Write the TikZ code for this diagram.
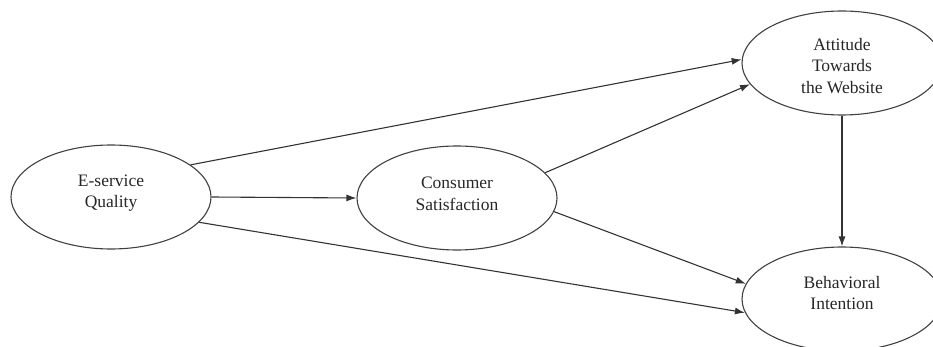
\documentclass[tikz,border=0pt]{standalone}
\usepackage{fontspec}
\setmainfont{Liberation Serif}
\usetikzlibrary{shapes.geometric,arrows.meta}
\begin{document}
\begin{tikzpicture}[x=1pt,y=-1pt,
  construct/.style={ellipse,draw=black!75,line width=1.1pt,minimum width=200pt,minimum height=104pt,inner sep=0pt},
  lbl/.style={align=center,text=black!85,inner sep=0pt,font=\fontsize{17.5}{21.5}\selectfont},
  link/.style={draw=black!80,line width=1.1pt,-{Latex[length=10pt,width=7pt]}}]
\useasboundingbox (0,0) rectangle (933,347);
\node[construct,label={[lbl,yshift=4pt]center:{E-service\\Quality}}] (E) at (111,197) {};
\node[construct,label={[lbl,yshift=4pt]center:{Consumer\\Satisfaction}}] (C) at (457,198) {};
\node[construct,label={[lbl,yshift=-3pt]center:{Attitude\\Towards\\the Website}}] (A) at (842,63) {};
\node[construct,label={[lbl,yshift=6pt]center:{Behavioral\\Intention}}] (B) at (842,299) {};
\draw[link] (E.east) -- (C.west);
\draw[link] (E.22) -- (A.178);
\draw[link] (E.-16) -- (B.188);
\draw[link] (C.16) -- (A.193);
\draw[link] (C.-8) -- (B.171);
\draw[link] (A.south) -- (B.north);
\end{tikzpicture}
\end{document}
